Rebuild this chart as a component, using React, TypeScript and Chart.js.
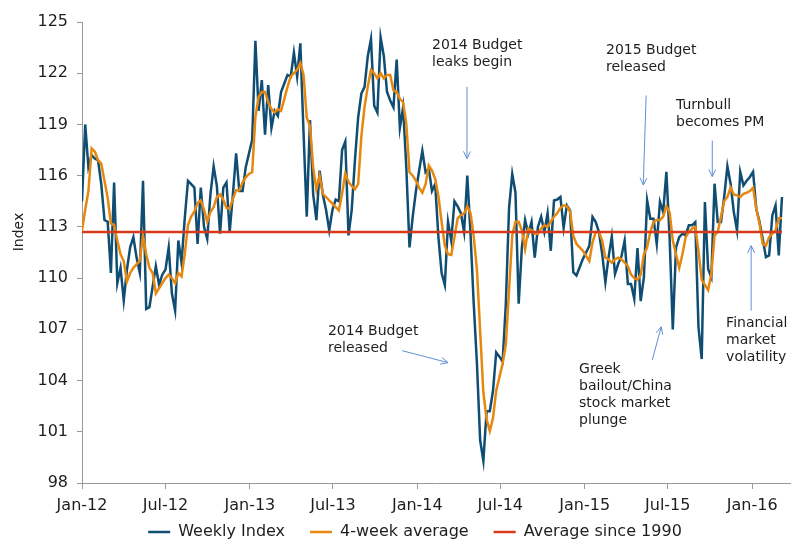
import React, { useEffect, useRef } from 'react';
import { Chart, registerables } from 'chart.js';

Chart.register(...registerables);

// Weekly consumer sentiment index, first week of Jan 2012 onwards
const weeklyIndex = [
  114.5, 119.0, 116.5, 117.2, 117.0, 116.9, 115.5, 113.4, 113.3, 110.3,
  115.6, 109.7, 110.6, 108.7, 110.5, 111.8, 112.4, 111.2, 110.3, 115.7,
  108.2, 108.3, 109.5, 110.7, 109.6, 110.2, 110.5, 111.8, 109.1, 108.1,
  112.2, 110.9, 113.5, 115.7, 115.5, 115.3, 112.0, 115.3, 113.0, 112.3,
  114.9, 116.55, 115.4, 112.6, 115.3, 115.6, 112.7, 114.9, 117.3, 115.1,
  115.1, 116.5, 117.3, 118.1, 123.9, 119.8, 121.6, 118.4, 121.3, 118.8,
  119.8, 119.5, 120.9, 121.4, 121.9, 121.8, 123.2, 121.8, 123.75, 118.5,
  113.6, 119.25, 114.9, 113.4, 116.3, 114.9, 114.0, 112.8, 114.0, 114.6,
  114.5, 117.5, 118.0, 112.5, 114.0, 116.9, 119.4, 120.8, 121.2, 123.0,
  124.0, 120.1, 119.7, 124.1, 123.0, 120.9, 120.4, 120.0, 122.8, 118.8,
  120.0, 116.5, 111.8, 113.6, 115.1, 116.3, 117.45, 116.2, 116.4, 115.1,
  115.5, 112.4, 110.3, 109.6, 113.3, 112.2, 114.5, 114.2, 113.8, 112.7,
  116.0, 112.6, 108.5, 105.0, 100.5, 99.3, 102.2, 102.2, 103.4, 105.65,
  105.4, 105.1, 108.5, 114.1, 116.1, 115.0, 108.5, 111.8, 113.4, 112.6,
  113.3, 111.2, 113.0, 113.6, 112.7, 113.8, 111.6, 114.55, 114.6, 114.75,
  112.95, 114.26, 113.97, 110.35, 110.15, 110.64, 111.13, 111.5, 111.9, 113.58,
  113.28, 112.7, 111.43, 109.76, 111.23, 112.44, 110.25, 110.84, 111.27, 112.2,
  109.66, 109.66, 108.78, 111.76, 108.65, 110.06, 114.55, 113.48, 113.48, 112.0,
  114.46, 113.87, 116.22, 112.4, 107.0, 111.8, 112.4, 112.6, 112.5, 113.09,
  113.09, 113.28, 107.12, 105.26, 114.46, 110.54, 110.05, 115.53, 113.28, 113.28,
  114.75, 116.55, 115.53, 113.87, 112.79, 116.22, 115.43, 115.7, 115.92, 116.22,
  114.06, 113.3, 112.3, 111.23, 111.33, 113.67, 114.26, 111.33, 114.75,
];

const fourWeekAverage = [
  112.8, 114.0, 115.1, 117.6, 117.4, 116.9, 116.7, 115.7, 114.7, 113.2,
  113.1, 112.2, 111.4, 111.0, 109.8, 110.3, 110.6, 110.8, 111.0, 112.5,
  111.4, 110.6, 110.3, 109.1, 109.4, 109.7, 110.0, 110.2, 110.0, 109.7,
  110.3, 110.1, 111.4, 113.1, 113.6, 113.9, 114.4, 114.55, 114.0, 113.3,
  113.87, 114.16, 114.75, 114.9, 114.6, 114.1, 114.07, 114.65, 115.14, 115.14,
  115.6, 115.9, 116.1, 116.2, 119.44, 120.6, 120.9, 120.9, 120.3, 119.9,
  119.7, 119.9, 119.8, 120.5, 121.2, 121.8, 122.0, 122.2, 122.6, 121.9,
  119.4, 118.9, 116.5, 115.2, 116.0, 114.94, 114.75, 114.55, 114.36, 114.16,
  113.97, 114.94, 116.12, 115.63, 115.4, 115.2, 115.5, 118.3, 120.03, 121.2,
  122.2, 122.0, 121.7, 122.0, 121.7, 121.9, 121.9, 121.0, 120.9, 120.5,
  120.3, 119.05, 116.2, 116.0, 115.7, 115.3, 115.0, 115.5, 116.6, 116.3,
  115.8, 114.8, 113.3, 111.9, 111.4, 111.35, 112.4, 113.5, 113.7, 113.8,
  114.2, 113.8, 112.45, 110.5, 106.9, 103.3, 101.75, 101.05, 101.8, 103.4,
  104.2, 105.0, 106.1, 109.3, 112.5, 113.3, 113.3, 112.8, 111.7, 112.9,
  112.8, 112.6, 112.6, 112.9, 113.1, 113.0, 113.3, 113.6, 113.8, 114.1,
  114.26, 114.2, 113.9, 112.5, 112.0, 111.8, 111.6, 111.3, 111.0, 112.1,
  112.7, 112.7, 112.2, 111.2, 111.1, 110.9, 111.1, 111.2, 111.1, 110.9,
  110.7, 110.2, 110.0, 109.9, 110.2, 111.4, 111.8, 112.7, 113.3, 113.4,
  113.4, 113.6, 114.2, 113.87, 112.2, 111.4, 110.6, 111.4, 112.4, 112.7,
  112.9, 113.0, 111.6, 109.9, 109.6, 109.3, 110.25, 112.5, 112.7, 113.6,
  114.5, 114.75, 115.3, 114.9, 114.85, 114.75, 114.94, 115.0, 115.1, 115.3,
  114.06, 113.2, 112.0, 111.9, 112.4, 112.6, 112.8, 113.5, 113.5,
];

const averageSince1990 = 112.7;

const tickLabels = ['Jan-12', 'Jul-12', 'Jan-13', 'Jul-13', 'Jan-14', 'Jul-14', 'Jan-15', 'Jul-15', 'Jan-16'];
const tickMonths: [number, number][] = [
  [2012, 0], [2012, 6], [2013, 0], [2013, 6], [2014, 0], [2014, 6], [2015, 0], [2015, 6], [2016, 0],
];

const START = Date.UTC(2012, 0, 1);
const WEEK_MS = 7 * 86400000;
const tickWeeks = tickMonths.map(([yr, m]) => (Date.UTC(yr, m, 1) - START) / WEEK_MS);
const weeks = weeklyIndex.map((_, i) => i);

const annotations = [
  { lines: ['2014 Budget', 'leaks begin'], at: [109.0, 123.65], arrow: [119.9, 121.2, 119.9, 117.0] },
  { lines: ['2015 Budget', 'released'], at: [163.2, 123.36], arrow: [175.7, 120.7, 174.8, 115.45] },
  { lines: ['Turnbull', 'becomes PM'], at: [185.0, 120.13], arrow: [196.3, 118.05, 196.3, 115.95] },
  { lines: ['2014 Budget', 'released'], at: [76.6, 106.87], arrow: [99.7, 105.75, 114.0, 105.05] },
  { lines: ['Greek', 'bailout/China', 'stock market', 'plunge'], at: [154.8, 104.64], arrow: [177.6, 105.2, 180.4, 107.15] },
  { lines: ['Financial', 'market', 'volatility'], at: [200.6, 107.34], arrow: [208.4, 108.1, 208.4, 111.9] },
];

const FONT = '"DejaVu Sans", Verdana, sans-serif';
const BLUE = '#0f4d73';
const ORANGE = '#e8870e';
const RED = '#d63a1b';
const AXIS = '#9a9a9a';
const TEXT = '#1e1e1e';
const ARROW = '#5f8fd3';

const overlayPlugin = {
  id: 'overlay',
  afterDatasetsDraw(chart: any) {
    const { ctx, chartArea } = chart;
    const xs = chart.scales.x;
    const ys = chart.scales.y;
    ctx.save();
    ctx.fillStyle = TEXT;
    ctx.font = `14px ${FONT}`;
    ctx.textAlign = 'center';
    ctx.textBaseline = 'middle';
    ctx.translate(19, chartArea.top + 210);
    ctx.rotate(-Math.PI / 2);
    ctx.fillText('Index', 0, 0);
    ctx.restore();

    ctx.save();
    ctx.font = `14px ${FONT}`;
    ctx.textAlign = 'left';
    ctx.textBaseline = 'middle';
    annotations.forEach((a) => {
      const tx = xs.getPixelForValue(a.at[0]);
      const ty = ys.getPixelForValue(a.at[1]);
      ctx.fillStyle = TEXT;
      a.lines.forEach((line, i) => ctx.fillText(line, tx, ty + i * 17));
      const x1 = xs.getPixelForValue(a.arrow[0]);
      const y1 = ys.getPixelForValue(a.arrow[1]);
      const x2 = xs.getPixelForValue(a.arrow[2]);
      const y2 = ys.getPixelForValue(a.arrow[3]);
      ctx.strokeStyle = ARROW;
      ctx.lineWidth = 1;
      ctx.beginPath();
      ctx.moveTo(x1, y1);
      ctx.lineTo(x2, y2);
      const ang = Math.atan2(y2 - y1, x2 - x1);
      const h = 8;
      ctx.moveTo(x2 - h * Math.cos(ang - 0.45), y2 - h * Math.sin(ang - 0.45));
      ctx.lineTo(x2, y2);
      ctx.lineTo(x2 - h * Math.cos(ang + 0.45), y2 - h * Math.sin(ang + 0.45));
      ctx.stroke();
    });
    ctx.restore();
  },
};

export default function App() {
  const ref = useRef<HTMLCanvasElement>(null);

  useEffect(() => {
    const canvas = ref.current;
    if (!canvas) return;
    const chart = new Chart(canvas, {
      type: 'line',
      data: {
        datasets: [
          {
            label: 'Weekly Index',
            data: weeks.map((w) => ({ x: w, y: weeklyIndex[w] })),
            borderColor: BLUE,
            backgroundColor: BLUE,
            borderWidth: 2.5,
            pointRadius: 0,
            tension: 0,
            order: 2,
          },
          {
            label: '4-week average',
            data: weeks.map((w) => ({ x: w, y: fourWeekAverage[w] })),
            borderColor: ORANGE,
            backgroundColor: ORANGE,
            borderWidth: 2.5,
            pointRadius: 0,
            tension: 0,
            order: 1,
          },
          {
            label: 'Average since 1990',
            data: weeks.map((w) => ({ x: w, y: averageSince1990 })),
            borderColor: RED,
            backgroundColor: RED,
            borderWidth: 2.5,
            pointRadius: 0,
            tension: 0,
            order: 0,
          },
        ],
      },
      options: {
        responsive: false,
        animation: false,
        devicePixelRatio: 1,
        layout: { padding: { left: 40, right: 16, top: 22, bottom: 0 } },
        plugins: {
          tooltip: { enabled: false },
          legend: {
            position: 'bottom',
            labels: {
              usePointStyle: true,
              pointStyle: 'line',
              pointStyleWidth: 22,
              padding: 25,
              color: TEXT,
              font: { family: FONT, size: 16 },
              sort: (a: any, b: any) => a.datasetIndex - b.datasetIndex,
            },
          },
        },
        scales: {
          x: {
            type: 'linear',
            min: 0,
            max: 220.5,
            afterBuildTicks: (scale: any) => {
              scale.ticks = tickWeeks.map((value) => ({ value }));
            },
            afterFit: (scale: any) => {
              scale.height = 16;
              scale._computeLabelArea = () => undefined;
            },
            grid: { drawOnChartArea: false, drawTicks: true, tickLength: 6, color: AXIS },
            border: { display: true, color: AXIS, width: 1 },
            ticks: {
              autoSkip: false,
              maxRotation: 0,
              padding: 7,
              color: TEXT,
              font: { family: FONT, size: 16 },
              callback: (_v: any, i: number) => tickLabels[i],
            },
          },
          y: {
            min: 98,
            max: 125,
            afterFit: (scale: any) => {
              scale.width = 42;
              scale._computeLabelArea = () => undefined;
            },
            grid: { drawOnChartArea: false, drawTicks: true, tickLength: 5, color: AXIS },
            border: { display: true, color: AXIS, width: 1 },
            ticks: {
              stepSize: 3,
              padding: 9,
              color: TEXT,
              font: { family: FONT, size: 16 },
            },
          },
        },
      },
      plugins: [overlayPlugin],
    } as any);
    return () => chart.destroy();
  }, []);

  return (
    <div
      style={{
        position: 'absolute',
        left: 0,
        top: 0,
        width: 806,
        height: 540,
        overflow: 'hidden',
        background: '#ffffff',
      }}
    >
      <canvas ref={ref} width={806} height={550} style={{ display: 'block', width: 806, height: 550 }} />
    </div>
  );
}
